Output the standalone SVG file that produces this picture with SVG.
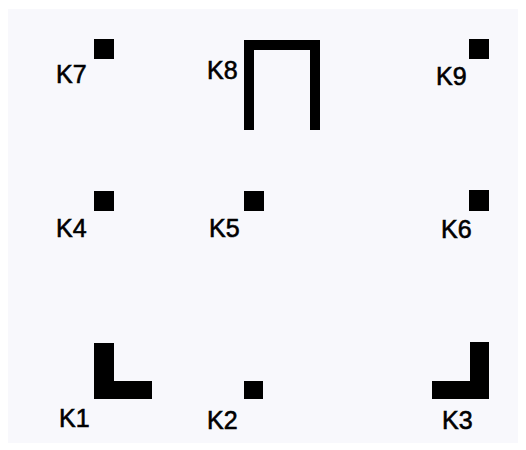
<svg xmlns="http://www.w3.org/2000/svg" width="526" height="450" viewBox="0 0 526 450">
<style>
.lbl{font-family:"Liberation Sans",Arial,sans-serif;font-size:25px;fill:#000;stroke:#000;stroke-width:0.6px;}
.sh{fill:#000;}
</style>
<rect x="0" y="0" width="526" height="450" fill="#ffffff"/>
<rect x="8" y="9" width="510" height="434" fill="#f8f8fc"/>
<g id="K7"><rect class="sh" x="94" y="39" width="20" height="20"/><text class="lbl" x="56" y="83">K7</text></g>
<g id="K8"><path class="sh" d="M244,40 H320 V130 H310 V50 H254 V130 H244 Z"/><text class="lbl" x="207" y="79">K8</text></g>
<g id="K9"><rect class="sh" x="469" y="39" width="20" height="20"/><text class="lbl" x="436" y="85">K9</text></g>
<g id="K4"><rect class="sh" x="94" y="191" width="20" height="20"/><text class="lbl" x="56" y="237">K4</text></g>
<g id="K5"><rect class="sh" x="244" y="191" width="20" height="20"/><text class="lbl" x="209" y="237">K5</text></g>
<g id="K6"><rect class="sh" x="469" y="190" width="20" height="21"/><text class="lbl" x="441" y="238">K6</text></g>
<g id="K1"><path class="sh" d="M94,343 H114 V381 H152 V399 H94 Z"/><text class="lbl" x="59" y="427">K1</text></g>
<g id="K2"><rect class="sh" x="244" y="381" width="19" height="18"/><text class="lbl" x="207" y="429">K2</text></g>
<g id="K3"><path class="sh" d="M470,342 H489 V399 H432 V381 H470 Z"/><text class="lbl" x="442" y="429">K3</text></g>
<g id="connectors"></g>
</svg>
